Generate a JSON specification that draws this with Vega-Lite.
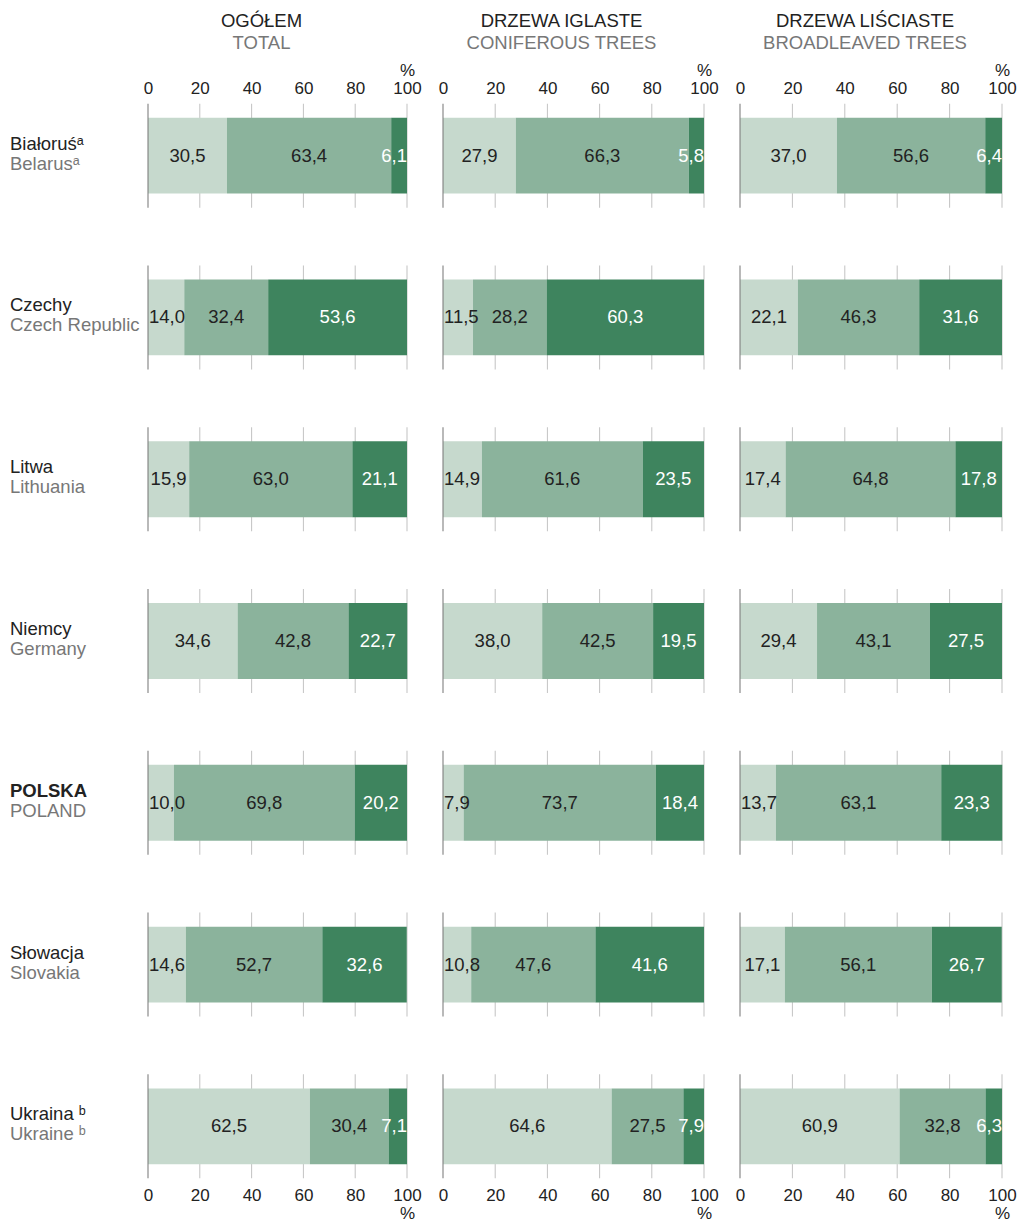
{
  "$schema": "https://vega.github.io/schema/vega-lite/v6.json",
  "autosize": {"type": "pad"},
  "padding": {"left": 9, "top": 12, "right": 10, "bottom": 4},
  "background": "#ffffff",
  "datasets": {
    "main": [
      {"g": "T", "c": "BY", "k": 1, "v": 30.5}, {"g": "T", "c": "BY", "k": 2, "v": 63.4}, {"g": "T", "c": "BY", "k": 3, "v": 6.1},
      {"g": "C", "c": "BY", "k": 1, "v": 27.9}, {"g": "C", "c": "BY", "k": 2, "v": 66.3}, {"g": "C", "c": "BY", "k": 3, "v": 5.8},
      {"g": "B", "c": "BY", "k": 1, "v": 37.0}, {"g": "B", "c": "BY", "k": 2, "v": 56.6}, {"g": "B", "c": "BY", "k": 3, "v": 6.4},
      {"g": "T", "c": "CZ", "k": 1, "v": 14.0}, {"g": "T", "c": "CZ", "k": 2, "v": 32.4}, {"g": "T", "c": "CZ", "k": 3, "v": 53.6},
      {"g": "C", "c": "CZ", "k": 1, "v": 11.5}, {"g": "C", "c": "CZ", "k": 2, "v": 28.2}, {"g": "C", "c": "CZ", "k": 3, "v": 60.3},
      {"g": "B", "c": "CZ", "k": 1, "v": 22.1}, {"g": "B", "c": "CZ", "k": 2, "v": 46.3}, {"g": "B", "c": "CZ", "k": 3, "v": 31.6},
      {"g": "T", "c": "LT", "k": 1, "v": 15.9}, {"g": "T", "c": "LT", "k": 2, "v": 63.0}, {"g": "T", "c": "LT", "k": 3, "v": 21.1},
      {"g": "C", "c": "LT", "k": 1, "v": 14.9}, {"g": "C", "c": "LT", "k": 2, "v": 61.6}, {"g": "C", "c": "LT", "k": 3, "v": 23.5},
      {"g": "B", "c": "LT", "k": 1, "v": 17.4}, {"g": "B", "c": "LT", "k": 2, "v": 64.8}, {"g": "B", "c": "LT", "k": 3, "v": 17.8},
      {"g": "T", "c": "DE", "k": 1, "v": 34.6}, {"g": "T", "c": "DE", "k": 2, "v": 42.8}, {"g": "T", "c": "DE", "k": 3, "v": 22.7},
      {"g": "C", "c": "DE", "k": 1, "v": 38.0}, {"g": "C", "c": "DE", "k": 2, "v": 42.5}, {"g": "C", "c": "DE", "k": 3, "v": 19.5},
      {"g": "B", "c": "DE", "k": 1, "v": 29.4}, {"g": "B", "c": "DE", "k": 2, "v": 43.1}, {"g": "B", "c": "DE", "k": 3, "v": 27.5},
      {"g": "T", "c": "PL", "k": 1, "v": 10.0}, {"g": "T", "c": "PL", "k": 2, "v": 69.8}, {"g": "T", "c": "PL", "k": 3, "v": 20.2},
      {"g": "C", "c": "PL", "k": 1, "v": 7.9}, {"g": "C", "c": "PL", "k": 2, "v": 73.7}, {"g": "C", "c": "PL", "k": 3, "v": 18.4},
      {"g": "B", "c": "PL", "k": 1, "v": 13.7}, {"g": "B", "c": "PL", "k": 2, "v": 63.1}, {"g": "B", "c": "PL", "k": 3, "v": 23.3},
      {"g": "T", "c": "SK", "k": 1, "v": 14.6}, {"g": "T", "c": "SK", "k": 2, "v": 52.7}, {"g": "T", "c": "SK", "k": 3, "v": 32.6},
      {"g": "C", "c": "SK", "k": 1, "v": 10.8}, {"g": "C", "c": "SK", "k": 2, "v": 47.6}, {"g": "C", "c": "SK", "k": 3, "v": 41.6},
      {"g": "B", "c": "SK", "k": 1, "v": 17.1}, {"g": "B", "c": "SK", "k": 2, "v": 56.1}, {"g": "B", "c": "SK", "k": 3, "v": 26.7},
      {"g": "T", "c": "UA", "k": 1, "v": 62.5}, {"g": "T", "c": "UA", "k": 2, "v": 30.4}, {"g": "T", "c": "UA", "k": 3, "v": 7.1},
      {"g": "C", "c": "UA", "k": 1, "v": 64.6}, {"g": "C", "c": "UA", "k": 2, "v": 27.5}, {"g": "C", "c": "UA", "k": 3, "v": 7.9},
      {"g": "B", "c": "UA", "k": 1, "v": 60.9}, {"g": "B", "c": "UA", "k": 2, "v": 32.8}, {"g": "B", "c": "UA", "k": 3, "v": 6.3}
    ],
    "countries": [
      {"c": "BY", "pl": "Białoruśᵃ", "en": "Belarusᵃ"},
      {"c": "CZ", "pl": "Czechy", "en": "Czech Republic"},
      {"c": "LT", "pl": "Litwa", "en": "Lithuania"},
      {"c": "DE", "pl": "Niemcy", "en": "Germany"},
      {"c": "PL", "pl": "POLSKA", "en": "POLAND"},
      {"c": "SK", "pl": "Słowacja", "en": "Slovakia"},
      {"c": "UA", "pl": "Ukraina ᵇ", "en": "Ukraine ᵇ"}
    ]
  },
  "data": {"name": "main"},
  "spacing": 36,
  "bounds": "flush",
  "hconcat": [
    {
      "width": 259, "height": 1084,
      "title": {"text": "OGÓŁEM", "subtitle": "TOTAL", "dx": -16},
      "transform": [
        {"filter": "datum.g === 'T'"},
        {"stack": "v", "groupby": ["c"], "sort": [{"field": "k"}], "as": ["x0", "x1"]},
        {"calculate": "(datum.x0 + datum.x1) / 2", "as": "mid"},
        {"calculate": "replace(format(datum.v, '.1f'), '.', ',')", "as": "lab"}
      ],
      "resolve": {"axis": {"x": "independent"}},
      "layer": [
        {"transform": [{"filter": "datum.k === 1"}], "mark": {"type": "tick", "size": 104, "thickness": 1, "color": "#a8a8a8"},
         "encoding": {"x": {"datum": 20, "type": "quantitative", "scale": {"domain": [0, 100], "nice": false}, "axis": null}, "y": {"field": "c", "type": "nominal", "sort": ["BY", "CZ", "LT", "DE", "PL", "SK", "UA"], "axis": null, "scale": {"paddingInner": 0.3, "paddingOuter": 0}}}},
        {"transform": [{"filter": "datum.k === 1"}], "mark": {"type": "tick", "size": 104, "thickness": 1, "color": "#a8a8a8"},
         "encoding": {"x": {"datum": 40, "type": "quantitative", "scale": {"domain": [0, 100], "nice": false}, "axis": null}, "y": {"field": "c", "type": "nominal", "sort": ["BY", "CZ", "LT", "DE", "PL", "SK", "UA"], "axis": null}}},
        {"transform": [{"filter": "datum.k === 1"}], "mark": {"type": "tick", "size": 104, "thickness": 1, "color": "#a8a8a8"},
         "encoding": {"x": {"datum": 60, "type": "quantitative", "scale": {"domain": [0, 100], "nice": false}, "axis": null}, "y": {"field": "c", "type": "nominal", "sort": ["BY", "CZ", "LT", "DE", "PL", "SK", "UA"], "axis": null}}},
        {"transform": [{"filter": "datum.k === 1"}], "mark": {"type": "tick", "size": 104, "thickness": 1, "color": "#a8a8a8"},
         "encoding": {"x": {"datum": 80, "type": "quantitative", "scale": {"domain": [0, 100], "nice": false}, "axis": null}, "y": {"field": "c", "type": "nominal", "sort": ["BY", "CZ", "LT", "DE", "PL", "SK", "UA"], "axis": null}}},
        {"transform": [{"filter": "datum.k === 1"}], "mark": {"type": "tick", "size": 104, "thickness": 1, "color": "#a8a8a8"},
         "encoding": {"x": {"datum": 100, "type": "quantitative", "scale": {"domain": [0, 100], "nice": false}, "axis": null}, "y": {"field": "c", "type": "nominal", "sort": ["BY", "CZ", "LT", "DE", "PL", "SK", "UA"], "axis": null}}},
        {"mark": {"type": "bar", "height": {"band": 0.67}},
         "encoding": {
           "x": {"field": "x0", "type": "quantitative", "scale": {"domain": [0, 100], "nice": false},
                 "axis": {"orient": "top", "values": [0, 20, 40, 60, 80, 100], "domain": false, "ticks": false, "grid": false, "title": null, "labelPadding": 20, "labelFlush": false, "labelOverlap": false, "labelLineHeight": 18, "labelExpr": "datum.value === 100 ? ['%', '100'] : ['', datum.label]"}},
           "x2": {"field": "x1"},
           "y": {"field": "c", "type": "nominal", "sort": ["BY", "CZ", "LT", "DE", "PL", "SK", "UA"], "axis": null},
           "color": {"field": "k", "type": "nominal", "scale": {"domain": [1, 2, 3], "range": ["#c6d9cd", "#8bb39c", "#3e845e"]}, "legend": null}}},
        {"transform": [{"filter": "datum.k === 1"}], "mark": {"type": "tick", "size": 104, "thickness": 1.5, "color": "#7a7a7a"},
         "encoding": {"x": {"datum": 0, "type": "quantitative", "scale": {"domain": [0, 100], "nice": false}, "axis": null}, "y": {"field": "c", "type": "nominal", "sort": ["BY", "CZ", "LT", "DE", "PL", "SK", "UA"], "axis": null}}},
        {"transform": [{"filter": "datum.mid >= 7.5 && datum.mid <= 92.5"}], "mark": {"type": "text", "fontSize": 18.5, "align": "center", "baseline": "middle"},
         "encoding": {
           "x": {"field": "mid", "type": "quantitative", "scale": {"domain": [0, 100], "nice": false},
                 "axis": {"orient": "bottom", "values": [0, 20, 40, 60, 80, 100], "domain": false, "ticks": false, "grid": false, "title": null, "labelPadding": 4, "labelFlush": false, "labelOverlap": false, "labelLineHeight": 18, "labelExpr": "datum.value === 100 ? ['100', '%'] : datum.label"}},
           "y": {"field": "c", "type": "nominal", "sort": ["BY", "CZ", "LT", "DE", "PL", "SK", "UA"], "axis": null},
           "text": {"field": "lab"},
           "color": {"condition": {"test": "datum.k === 3", "value": "#ffffff"}, "value": "#222222"}}},
        {"transform": [{"filter": "datum.mid < 7.5"}], "mark": {"type": "text", "fontSize": 18.5, "align": "left", "baseline": "middle", "dx": 1},
         "encoding": {
           "x": {"field": "x0", "type": "quantitative", "scale": {"domain": [0, 100], "nice": false}, "axis": null},
           "y": {"field": "c", "type": "nominal", "sort": ["BY", "CZ", "LT", "DE", "PL", "SK", "UA"], "axis": null},
           "text": {"field": "lab"},
           "color": {"condition": {"test": "datum.k === 3", "value": "#ffffff"}, "value": "#222222"}}},
        {"transform": [{"filter": "datum.mid > 92.5"}], "mark": {"type": "text", "fontSize": 18.5, "align": "right", "baseline": "middle", "dx": 0},
         "encoding": {
           "x": {"field": "x1", "type": "quantitative", "scale": {"domain": [0, 100], "nice": false}, "axis": null},
           "y": {"field": "c", "type": "nominal", "sort": ["BY", "CZ", "LT", "DE", "PL", "SK", "UA"], "axis": null},
           "text": {"field": "lab"},
           "color": {"condition": {"test": "datum.k === 3", "value": "#ffffff"}, "value": "#222222"}}},
        {"data": {"name": "countries"}, "transform": [{"filter": "datum.c !== 'PL'"}],
         "mark": {"type": "text", "align": "left", "baseline": "middle", "fontSize": 18.5, "dy": -12, "color": "#222222"},
         "encoding": {"x": {"datum": -53.3, "type": "quantitative", "scale": {"domain": [0, 100], "nice": false}, "axis": null},
                      "y": {"field": "c", "type": "nominal", "sort": ["BY", "CZ", "LT", "DE", "PL", "SK", "UA"], "axis": null},
                      "text": {"field": "pl"}}},
        {"data": {"name": "countries"}, "transform": [{"filter": "datum.c === 'PL'"}],
         "mark": {"type": "text", "align": "left", "baseline": "middle", "fontSize": 18.5, "fontWeight": "bold", "dy": -12, "color": "#222222"},
         "encoding": {"x": {"datum": -53.3, "type": "quantitative", "scale": {"domain": [0, 100], "nice": false}, "axis": null},
                      "y": {"field": "c", "type": "nominal", "sort": ["BY", "CZ", "LT", "DE", "PL", "SK", "UA"], "axis": null},
                      "text": {"field": "pl"}}},
        {"data": {"name": "countries"},
         "mark": {"type": "text", "align": "left", "baseline": "middle", "fontSize": 18.5, "dy": 8, "color": "#777777"},
         "encoding": {"x": {"datum": -53.3, "type": "quantitative", "scale": {"domain": [0, 100], "nice": false}, "axis": null},
                      "y": {"field": "c", "type": "nominal", "sort": ["BY", "CZ", "LT", "DE", "PL", "SK", "UA"], "axis": null},
                      "text": {"field": "en"}}}
      ]
    },
    {
      "width": 261, "height": 1084,
      "title": {"text": "DRZEWA IGLASTE", "subtitle": "CONIFEROUS TREES", "dx": -12},
      "transform": [
        {"filter": "datum.g === 'C'"},
        {"stack": "v", "groupby": ["c"], "sort": [{"field": "k"}], "as": ["x0", "x1"]},
        {"calculate": "(datum.x0 + datum.x1) / 2", "as": "mid"},
        {"calculate": "replace(format(datum.v, '.1f'), '.', ',')", "as": "lab"}
      ],
      "resolve": {"axis": {"x": "independent"}},
      "layer": [
        {"transform": [{"filter": "datum.k === 1"}], "mark": {"type": "tick", "size": 104, "thickness": 1, "color": "#a8a8a8"},
         "encoding": {"x": {"datum": 20, "type": "quantitative", "scale": {"domain": [0, 100], "nice": false}, "axis": null}, "y": {"field": "c", "type": "nominal", "sort": ["BY", "CZ", "LT", "DE", "PL", "SK", "UA"], "axis": null, "scale": {"paddingInner": 0.3, "paddingOuter": 0}}}},
        {"transform": [{"filter": "datum.k === 1"}], "mark": {"type": "tick", "size": 104, "thickness": 1, "color": "#a8a8a8"},
         "encoding": {"x": {"datum": 40, "type": "quantitative", "scale": {"domain": [0, 100], "nice": false}, "axis": null}, "y": {"field": "c", "type": "nominal", "sort": ["BY", "CZ", "LT", "DE", "PL", "SK", "UA"], "axis": null}}},
        {"transform": [{"filter": "datum.k === 1"}], "mark": {"type": "tick", "size": 104, "thickness": 1, "color": "#a8a8a8"},
         "encoding": {"x": {"datum": 60, "type": "quantitative", "scale": {"domain": [0, 100], "nice": false}, "axis": null}, "y": {"field": "c", "type": "nominal", "sort": ["BY", "CZ", "LT", "DE", "PL", "SK", "UA"], "axis": null}}},
        {"transform": [{"filter": "datum.k === 1"}], "mark": {"type": "tick", "size": 104, "thickness": 1, "color": "#a8a8a8"},
         "encoding": {"x": {"datum": 80, "type": "quantitative", "scale": {"domain": [0, 100], "nice": false}, "axis": null}, "y": {"field": "c", "type": "nominal", "sort": ["BY", "CZ", "LT", "DE", "PL", "SK", "UA"], "axis": null}}},
        {"transform": [{"filter": "datum.k === 1"}], "mark": {"type": "tick", "size": 104, "thickness": 1, "color": "#a8a8a8"},
         "encoding": {"x": {"datum": 100, "type": "quantitative", "scale": {"domain": [0, 100], "nice": false}, "axis": null}, "y": {"field": "c", "type": "nominal", "sort": ["BY", "CZ", "LT", "DE", "PL", "SK", "UA"], "axis": null}}},
        {"mark": {"type": "bar", "height": {"band": 0.67}},
         "encoding": {
           "x": {"field": "x0", "type": "quantitative", "scale": {"domain": [0, 100], "nice": false},
                 "axis": {"orient": "top", "values": [0, 20, 40, 60, 80, 100], "domain": false, "ticks": false, "grid": false, "title": null, "labelPadding": 20, "labelFlush": false, "labelOverlap": false, "labelLineHeight": 18, "labelExpr": "datum.value === 100 ? ['%', '100'] : ['', datum.label]"}},
           "x2": {"field": "x1"},
           "y": {"field": "c", "type": "nominal", "sort": ["BY", "CZ", "LT", "DE", "PL", "SK", "UA"], "axis": null},
           "color": {"field": "k", "type": "nominal", "scale": {"domain": [1, 2, 3], "range": ["#c6d9cd", "#8bb39c", "#3e845e"]}, "legend": null}}},
        {"transform": [{"filter": "datum.k === 1"}], "mark": {"type": "tick", "size": 104, "thickness": 1.5, "color": "#7a7a7a"},
         "encoding": {"x": {"datum": 0, "type": "quantitative", "scale": {"domain": [0, 100], "nice": false}, "axis": null}, "y": {"field": "c", "type": "nominal", "sort": ["BY", "CZ", "LT", "DE", "PL", "SK", "UA"], "axis": null}}},
        {"transform": [{"filter": "datum.mid >= 7.5 && datum.mid <= 92.5"}], "mark": {"type": "text", "fontSize": 18.5, "align": "center", "baseline": "middle"},
         "encoding": {
           "x": {"field": "mid", "type": "quantitative", "scale": {"domain": [0, 100], "nice": false},
                 "axis": {"orient": "bottom", "values": [0, 20, 40, 60, 80, 100], "domain": false, "ticks": false, "grid": false, "title": null, "labelPadding": 4, "labelFlush": false, "labelOverlap": false, "labelLineHeight": 18, "labelExpr": "datum.value === 100 ? ['100', '%'] : datum.label"}},
           "y": {"field": "c", "type": "nominal", "sort": ["BY", "CZ", "LT", "DE", "PL", "SK", "UA"], "axis": null},
           "text": {"field": "lab"},
           "color": {"condition": {"test": "datum.k === 3", "value": "#ffffff"}, "value": "#222222"}}},
        {"transform": [{"filter": "datum.mid < 7.5"}], "mark": {"type": "text", "fontSize": 18.5, "align": "left", "baseline": "middle", "dx": 1},
         "encoding": {
           "x": {"field": "x0", "type": "quantitative", "scale": {"domain": [0, 100], "nice": false}, "axis": null},
           "y": {"field": "c", "type": "nominal", "sort": ["BY", "CZ", "LT", "DE", "PL", "SK", "UA"], "axis": null},
           "text": {"field": "lab"},
           "color": {"condition": {"test": "datum.k === 3", "value": "#ffffff"}, "value": "#222222"}}},
        {"transform": [{"filter": "datum.mid > 92.5"}], "mark": {"type": "text", "fontSize": 18.5, "align": "right", "baseline": "middle", "dx": 0},
         "encoding": {
           "x": {"field": "x1", "type": "quantitative", "scale": {"domain": [0, 100], "nice": false}, "axis": null},
           "y": {"field": "c", "type": "nominal", "sort": ["BY", "CZ", "LT", "DE", "PL", "SK", "UA"], "axis": null},
           "text": {"field": "lab"},
           "color": {"condition": {"test": "datum.k === 3", "value": "#ffffff"}, "value": "#222222"}}}
      ]
    },
    {
      "width": 262, "height": 1084,
      "title": {"text": "DRZEWA LIŚCIASTE", "subtitle": "BROADLEAVED TREES", "dx": -6},
      "transform": [
        {"filter": "datum.g === 'B'"},
        {"stack": "v", "groupby": ["c"], "sort": [{"field": "k"}], "as": ["x0", "x1"]},
        {"calculate": "(datum.x0 + datum.x1) / 2", "as": "mid"},
        {"calculate": "replace(format(datum.v, '.1f'), '.', ',')", "as": "lab"}
      ],
      "resolve": {"axis": {"x": "independent"}},
      "layer": [
        {"transform": [{"filter": "datum.k === 1"}], "mark": {"type": "tick", "size": 104, "thickness": 1, "color": "#a8a8a8"},
         "encoding": {"x": {"datum": 20, "type": "quantitative", "scale": {"domain": [0, 100], "nice": false}, "axis": null}, "y": {"field": "c", "type": "nominal", "sort": ["BY", "CZ", "LT", "DE", "PL", "SK", "UA"], "axis": null, "scale": {"paddingInner": 0.3, "paddingOuter": 0}}}},
        {"transform": [{"filter": "datum.k === 1"}], "mark": {"type": "tick", "size": 104, "thickness": 1, "color": "#a8a8a8"},
         "encoding": {"x": {"datum": 40, "type": "quantitative", "scale": {"domain": [0, 100], "nice": false}, "axis": null}, "y": {"field": "c", "type": "nominal", "sort": ["BY", "CZ", "LT", "DE", "PL", "SK", "UA"], "axis": null}}},
        {"transform": [{"filter": "datum.k === 1"}], "mark": {"type": "tick", "size": 104, "thickness": 1, "color": "#a8a8a8"},
         "encoding": {"x": {"datum": 60, "type": "quantitative", "scale": {"domain": [0, 100], "nice": false}, "axis": null}, "y": {"field": "c", "type": "nominal", "sort": ["BY", "CZ", "LT", "DE", "PL", "SK", "UA"], "axis": null}}},
        {"transform": [{"filter": "datum.k === 1"}], "mark": {"type": "tick", "size": 104, "thickness": 1, "color": "#a8a8a8"},
         "encoding": {"x": {"datum": 80, "type": "quantitative", "scale": {"domain": [0, 100], "nice": false}, "axis": null}, "y": {"field": "c", "type": "nominal", "sort": ["BY", "CZ", "LT", "DE", "PL", "SK", "UA"], "axis": null}}},
        {"transform": [{"filter": "datum.k === 1"}], "mark": {"type": "tick", "size": 104, "thickness": 1, "color": "#a8a8a8"},
         "encoding": {"x": {"datum": 100, "type": "quantitative", "scale": {"domain": [0, 100], "nice": false}, "axis": null}, "y": {"field": "c", "type": "nominal", "sort": ["BY", "CZ", "LT", "DE", "PL", "SK", "UA"], "axis": null}}},
        {"mark": {"type": "bar", "height": {"band": 0.67}},
         "encoding": {
           "x": {"field": "x0", "type": "quantitative", "scale": {"domain": [0, 100], "nice": false},
                 "axis": {"orient": "top", "values": [0, 20, 40, 60, 80, 100], "domain": false, "ticks": false, "grid": false, "title": null, "labelPadding": 20, "labelFlush": false, "labelOverlap": false, "labelLineHeight": 18, "labelExpr": "datum.value === 100 ? ['%', '100'] : ['', datum.label]"}},
           "x2": {"field": "x1"},
           "y": {"field": "c", "type": "nominal", "sort": ["BY", "CZ", "LT", "DE", "PL", "SK", "UA"], "axis": null},
           "color": {"field": "k", "type": "nominal", "scale": {"domain": [1, 2, 3], "range": ["#c6d9cd", "#8bb39c", "#3e845e"]}, "legend": null}}},
        {"transform": [{"filter": "datum.k === 1"}], "mark": {"type": "tick", "size": 104, "thickness": 1.5, "color": "#7a7a7a"},
         "encoding": {"x": {"datum": 0, "type": "quantitative", "scale": {"domain": [0, 100], "nice": false}, "axis": null}, "y": {"field": "c", "type": "nominal", "sort": ["BY", "CZ", "LT", "DE", "PL", "SK", "UA"], "axis": null}}},
        {"transform": [{"filter": "datum.mid >= 7.5 && datum.mid <= 92.5"}], "mark": {"type": "text", "fontSize": 18.5, "align": "center", "baseline": "middle"},
         "encoding": {
           "x": {"field": "mid", "type": "quantitative", "scale": {"domain": [0, 100], "nice": false},
                 "axis": {"orient": "bottom", "values": [0, 20, 40, 60, 80, 100], "domain": false, "ticks": false, "grid": false, "title": null, "labelPadding": 4, "labelFlush": false, "labelOverlap": false, "labelLineHeight": 18, "labelExpr": "datum.value === 100 ? ['100', '%'] : datum.label"}},
           "y": {"field": "c", "type": "nominal", "sort": ["BY", "CZ", "LT", "DE", "PL", "SK", "UA"], "axis": null},
           "text": {"field": "lab"},
           "color": {"condition": {"test": "datum.k === 3", "value": "#ffffff"}, "value": "#222222"}}},
        {"transform": [{"filter": "datum.mid < 7.5"}], "mark": {"type": "text", "fontSize": 18.5, "align": "left", "baseline": "middle", "dx": 1},
         "encoding": {
           "x": {"field": "x0", "type": "quantitative", "scale": {"domain": [0, 100], "nice": false}, "axis": null},
           "y": {"field": "c", "type": "nominal", "sort": ["BY", "CZ", "LT", "DE", "PL", "SK", "UA"], "axis": null},
           "text": {"field": "lab"},
           "color": {"condition": {"test": "datum.k === 3", "value": "#ffffff"}, "value": "#222222"}}},
        {"transform": [{"filter": "datum.mid > 92.5"}], "mark": {"type": "text", "fontSize": 18.5, "align": "right", "baseline": "middle", "dx": 0},
         "encoding": {
           "x": {"field": "x1", "type": "quantitative", "scale": {"domain": [0, 100], "nice": false}, "axis": null},
           "y": {"field": "c", "type": "nominal", "sort": ["BY", "CZ", "LT", "DE", "PL", "SK", "UA"], "axis": null},
           "text": {"field": "lab"},
           "color": {"condition": {"test": "datum.k === 3", "value": "#ffffff"}, "value": "#222222"}}}
      ]
    }
  ],
  "config": {
    "view": {"stroke": null},
    "font": "Liberation Sans",
    "text": {"font": "Liberation Sans"},
    "title": {"font": "Liberation Sans", "fontSize": 18.5, "fontWeight": "normal", "color": "#222222", "subtitleFont": "Liberation Sans", "subtitleFontSize": 18.5, "subtitleColor": "#777777", "subtitlePadding": 3, "offset": 9, "anchor": "middle"},
    "axis": {"labelFont": "Liberation Sans", "labelFontSize": 17, "labelColor": "#222222"}
  }
}
